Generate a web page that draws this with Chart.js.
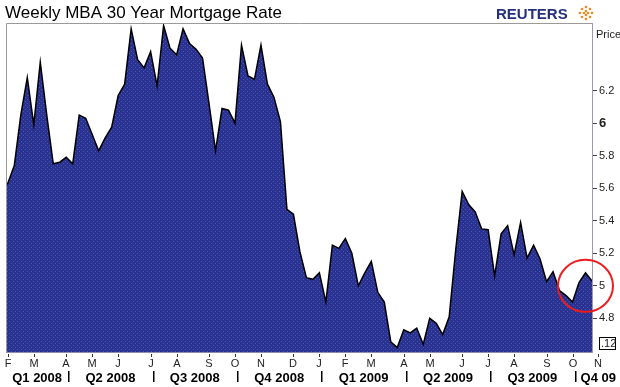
<!DOCTYPE html>
<html>
<head>
<meta charset="utf-8">
<script src="https://cdn.jsdelivr.net/npm/chart.js@4.4.0/dist/chart.umd.min.js"></script>
<style>
  html,body{margin:0;padding:0;background:#fff;}
  canvas{display:block;}
</style>
</head>
<body>
<canvas id="chart" width="620" height="387"></canvas>
<script>
const title = 'Weekly MBA 30 Year Mortgage Rate';
const firstWeek = Date.UTC(2008, 0, 27);   // date of rates[0], one value per week
const rates = [
  5.60, 5.63, 5.74, 6.05, 6.28, 5.99, 6.375, 6.05, 5.75, 5.76,
  5.79, 5.75, 6.05, 6.03, 5.93, 5.83, 5.91, 5.975, 6.17, 6.24,
  6.58, 6.39, 6.34, 6.44, 6.23, 6.60, 6.46, 6.42, 6.58, 6.49,
  6.455, 6.40, 6.12, 5.83, 6.09, 6.08, 6.00, 6.48, 6.29, 6.27,
  6.48, 6.24, 6.16, 6.01, 5.47, 5.44, 5.21, 5.05, 5.04, 5.08,
  4.90, 5.25, 5.23, 5.29, 5.20, 5.00, 5.08, 5.15, 4.96, 4.90,
  4.655, 4.62, 4.73, 4.71, 4.74, 4.64, 4.80, 4.77, 4.70, 4.81,
  5.22, 5.58, 5.50, 5.455, 5.35, 5.345, 5.06, 5.32, 5.37, 5.19,
  5.39, 5.17, 5.25, 5.165, 5.025, 5.087, 4.97, 4.94, 4.90, 5.02,
  5.08, 5.03
];
const yTicks = [4.8, 5, 5.2, 5.4, 5.6, 5.8, 6, 6.2];
const monthLetters = ['F','M','A','M','J','J','A','S','O','N','D','J','F','M','A','M','J','J','A','S','O','N'];
const firstMonth = [2008, 1];  // Feb 2008
const quarterLabels = ['Q1 2008','Q2 2008','Q3 2008','Q4 2008','Q1 2009','Q2 2009','Q3 2009','Q4 09'];
const circled = {week: 90, value: 5.0};
const lastLabel = '.12';

Chart.defaults.font.family = 'Arial, "Liberation Sans", sans-serif';

const WEEK = 7 * 864e5;
// first weekly point falling on/after each month start
const monthTicks = monthLetters.map((l, k) => {
  const t = Date.UTC(firstMonth[0], firstMonth[1] + k, 1);
  const m = (firstMonth[1] + k) % 12;
  return {letter: l, week: Math.ceil((t - firstWeek) / WEEK), quarterStart: m % 3 === 0};
});

const ctx = document.getElementById('chart').getContext('2d');

// dotted navy fill like the original
const pc = document.createElement('canvas'); pc.width = 4; pc.height = 4;
const p = pc.getContext('2d');
p.fillStyle = '#2d3093'; p.fillRect(0, 0, 4, 4);
p.fillStyle = '#3a64a4'; p.fillRect(1, 1, 1, 1); p.fillRect(3, 3, 1, 1);
const fillPattern = ctx.createPattern(pc, 'repeat');

const decor = {
  id: 'decor',
  afterDatasetsDraw(chart) {
    const {ctx, chartArea: a} = chart;
    ctx.save();
    ctx.strokeStyle = '#9a9a9a'; ctx.lineWidth = 1;
    ctx.beginPath();
    ctx.moveTo(a.left + 0.5, a.bottom); ctx.lineTo(a.left + 0.5, a.top + 0.5); ctx.lineTo(a.right, a.top + 0.5);
    ctx.stroke();
    ctx.strokeStyle = '#8c8cb4';
    ctx.beginPath(); ctx.moveTo(a.left, a.bottom + 0.5); ctx.lineTo(a.right, a.bottom + 0.5); ctx.stroke();
    ctx.restore();
  },
  afterDraw(chart) {
    const {ctx, chartArea: a} = chart;
    const xs = chart.scales.x, ys = chart.scales.y;
    ctx.save();
    // title
    ctx.fillStyle = '#000';
    ctx.font = '17px Arial, "Liberation Sans", sans-serif';
    ctx.textBaseline = 'alphabetic'; ctx.textAlign = 'left';
    ctx.fillText(title, 5, 18);
    // reuters mark
    ctx.fillStyle = '#26307e';
    ctx.font = 'bold 15px Arial, "Liberation Sans", sans-serif';
    ctx.fillText('REUTERS', 496, 19);
    ctx.fillStyle = '#f08a1c';
    [[0,-6],[0,6],[-4,-4],[4,-4],[-4,4],[4,4],[-6,0],[6,0],[0,-2],[0,2],[-2,0],[2,0]].forEach(([dx, dy]) => {
      ctx.beginPath(); ctx.arc(586 + dx, 13 + dy, 1.3, 0, Math.PI * 2); ctx.fill();
    });
    // Price label and last value box
    ctx.fillStyle = '#222';
    ctx.font = '11px Arial, "Liberation Sans", sans-serif';
    ctx.fillText('Price', 596, 38);
    ctx.strokeStyle = '#000'; ctx.lineWidth = 1;
    ctx.strokeRect(599.5, 337.5, 16, 12);
    ctx.fillText(lastLabel, 601, 347);
    // month ticks + letters
    ctx.textAlign = 'center';
    ctx.strokeStyle = '#333';
    monthTicks.forEach(t => {
      const x = Math.round(xs.getPixelForValue(t.week));
      ctx.beginPath(); ctx.moveTo(x + 0.5, a.bottom + 2); ctx.lineTo(x + 0.5, a.bottom + 5); ctx.stroke();
      ctx.fillText(t.letter, x, 367);
    });
    // quarter labels with separators
    const seps = monthTicks.filter(t => t.quarterStart).map(t => xs.getPixelForValue(t.week) + 2);
    ctx.font = 'bold 13px Arial, "Liberation Sans", sans-serif';
    ctx.fillStyle = '#000';
    seps.forEach(x => ctx.fillRect(Math.round(x), 371, 1.5, 11));
    const edges = [a.left].concat(seps);
    quarterLabels.forEach((q, k) => {
      if (k < edges.length - 1) {
        ctx.textAlign = 'center';
        ctx.fillText(q, (edges[k] + edges[k + 1]) / 2, 382);
      } else {
        ctx.textAlign = 'left';
        ctx.fillText(q, edges[k] + 6, 382);
      }
    });
    // red highlight circle
    ctx.strokeStyle = '#ee1c1c'; ctx.lineWidth = 2;
    ctx.beginPath();
    ctx.ellipse(xs.getPixelForValue(circled.week), ys.getPixelForValue(circled.value), 27.5, 26, 0, 0, Math.PI * 2);
    ctx.stroke();
    ctx.restore();
  }
};

new Chart(ctx, {
  type: 'line',
  data: {
    datasets: [{
      data: rates.map((v, i) => ({x: i, y: v})),
      borderColor: '#000',
      borderWidth: 1.5,
      backgroundColor: fillPattern,
      fill: 'start',
      pointRadius: 0,
      tension: 0
    }]
  },
  options: {
    responsive: false,
    animation: false,
    devicePixelRatio: 1,
    layout: {padding: {top: 23, left: 6, right: 0, bottom: 35}},
    plugins: {legend: {display: false}, tooltip: {enabled: false}, title: {display: false}},
    scales: {
      x: {type: 'linear', display: false, min: 0.72, max: 91},
      y: {
        position: 'right',
        min: 4.593, max: 6.616,
        afterFit: s => { s.width = 28; },
        afterBuildTicks: s => { s.ticks = yTicks.map(v => ({value: v})); },
        grid: {drawOnChartArea: false, drawTicks: true, tickLength: 5, color: '#444'},
        border: {display: true, color: '#9a9ab4', dash: [2, 2]},
        ticks: {
          padding: 2,
          color: '#222',
          font: c => (c.tick && c.tick.value === 6) ? {size: 13, weight: 'bold'} : {size: 11},
          callback: v => String(v)
        }
      }
    }
  },
  plugins: [decor]
});
</script>
</body>
</html>
